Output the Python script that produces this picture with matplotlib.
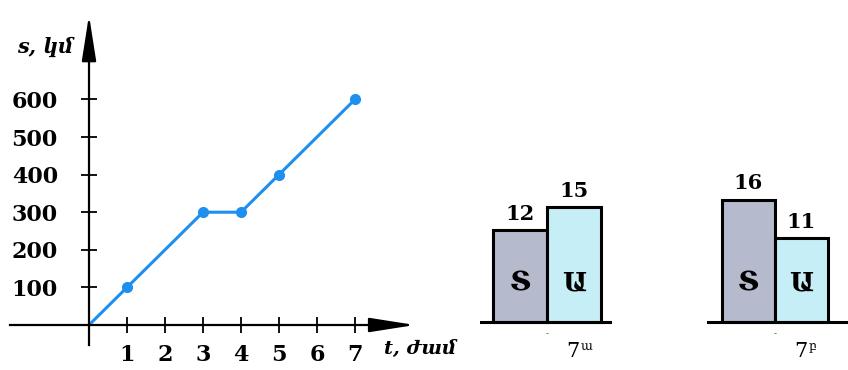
import matplotlib.pyplot as plt

# distance-time graph
hours = [0, 1, 3, 4, 5, 7]
km = [0, 100, 300, 300, 400, 600]
x_ticks = [1, 2, 3, 4, 5, 6, 7]
y_ticks = [100, 200, 300, 400, 500, 600]

# bar groups (two classes)
classes = ["7", "7"]
class_marks = ["ա", "բ"]
bar_letters = ["Տ", "Ա"]
class_a = [12, 15]
class_b = [16, 11]

W, H = 848, 370
BLUE = "#1f8fef"
BAR_COLORS = ["#b6bacd", "#c6eef6"]
SERIF = ["DejaVu Serif", "DejaVu Sans"]

fig = plt.figure(figsize=(W / 100, H / 100), dpi=100)


def px_axes(x0, y0, x1, y1):
    return fig.add_axes([x0 / W, 1 - y1 / H, (x1 - x0) / W, (y1 - y0) / H])


# ---- line chart ----
ax = px_axes(0, 0, 430, 370)
ax.set_xlim((0 - 89) / 38, (430 - 89) / 38)
ax.set_ylim((325 - 370) / 0.376, 325 / 0.376)
ax.patch.set_alpha(0)
for s in ["top", "right"]:
    ax.spines[s].set_visible(False)
ax.spines["left"].set_position(("data", 0))
ax.spines["bottom"].set_position(("data", 0))
ax.spines["left"].set_bounds(-53, 790)
ax.spines["bottom"].set_bounds(-2.08, 8.2)
for s in ["left", "bottom"]:
    ax.spines[s].set_linewidth(1.6)
arrow = dict(arrowstyle="-|>,head_length=1.4,head_width=0.22",
             color="black", lw=1.6, mutation_scale=20, shrinkA=0, shrinkB=0)
ax.annotate("", xy=(0, 824), xytext=(0, 760), arrowprops=arrow)
ax.annotate("", xy=(8.58, 0), xytext=(7.9, 0), arrowprops=arrow)
ax.set_xticks(x_ticks)
ax.set_yticks(y_ticks)
ax.set_xticklabels([str(t) for t in x_ticks])
ax.set_yticklabels([str(t) for t in y_ticks])
ax.tick_params(direction="inout", length=11, width=1.3)
ax.tick_params(axis="x", pad=8)
ax.tick_params(axis="y", pad=17)
for lab in ax.get_xticklabels() + ax.get_yticklabels():
    lab.set_family(SERIF)
    lab.set_fontweight("bold")
    lab.set_fontsize(16)

ax.plot(hours, km, color=BLUE, lw=2.2, clip_on=False)
ax.plot(hours[1:], km[1:], "o", color=BLUE, ms=7, clip_on=False)

ax.text(-1.9, 740, "s, կմ", family=SERIF, style="italic", fontweight="bold",
        fontsize=15, va="center", ha="left")
ax.text(7.75, -65, "t, ժամ", family=SERIF, style="italic", fontweight="bold",
        fontsize=14, va="center", ha="left")

# ---- bar charts ----
def bar_group(x0, x1, xlim, values, mark):
    bx = px_axes(x0, 150, x1, 370)
    bx.set_xlim(*xlim)
    bx.set_ylim(-48 / 7.65, 172 / 7.65)
    bx.axis("off")
    bx.bar([0, 1], values, width=1, color=BAR_COLORS, edgecolor="black",
           linewidth=2.2, zorder=2)
    bx.axhline(0, color="black", lw=2.2, zorder=3)
    for i, v in enumerate(values):
        bx.text(i, v + 0.8, str(v), ha="center", va="bottom", family=SERIF,
                fontweight="bold", fontsize=15)
        bx.text(i, 5.1, bar_letters[i], ha="center", va="center",
                family=SERIF, fontweight="bold", fontsize=19, zorder=4)
    bx.text(0.5, -1.5, "-", ha="center", va="center", fontsize=6, color="#555555")
    bx.annotate("7", xy=(0.5, -3.9), xytext=(14, 0), textcoords="offset points",
                ha="left", va="center", family=SERIF, fontsize=15)
    bx.annotate(mark, xy=(0.5, -3.9), xytext=(24, 4), textcoords="offset points",
                ha="left", va="center", family=SERIF, fontsize=9)


bar_group(480, 612, (-0.74, 1.70), class_a, class_marks[0])
bar_group(707, 848, (-0.78, 1.88), class_b, class_marks[1])

fig.savefig("out.png", dpi=100)
